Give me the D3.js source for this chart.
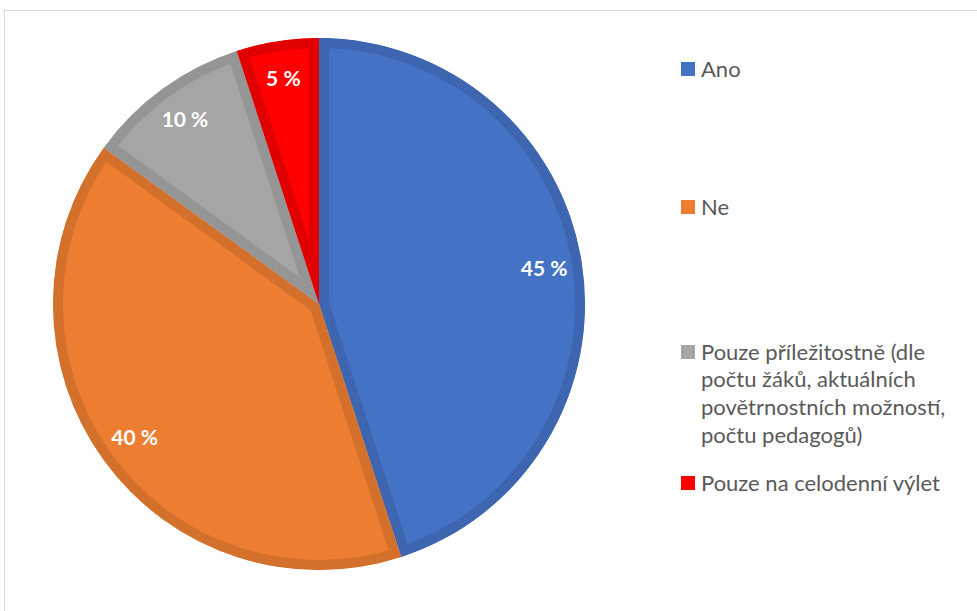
<!DOCTYPE html>
<html>
<head>
<meta charset="utf-8">
<script src="https://cdn.jsdelivr.net/npm/d3@7"></script>
<style>
  body { margin: 0; background: #fff; }
  .pct { font-family: Lato, "Open Sans", sans-serif; font-size: 21px; font-weight: bold; fill: #fff; text-anchor: middle; }
  .legend { font-family: Lato, "Open Sans", sans-serif; font-size: 22px; fill: #595959; }
</style>
</head>
<body>
<svg id="chart" width="977" height="611"></svg>
<script>
const categories = [
  ["Ano"],
  ["Ne"],
  ["Pouze příležitostně (dle", "počtu žáků, aktuálních", "povětrnostních možností,", "počtu pedagogů)"],
  ["Pouze na celodenní výlet"]
];
const values = [45, 40, 10, 5];
const fills = ["#4472C4", "#ED7D31", "#A5A5A5", "#FF0000"];
const edges = ["#3E66B0", "#D3702C", "#959595", "#E00000"];
const legendY = [69, 207, 352, 483];

const width = 977, height = 611;
const cx = 319, cy = 304, r = 266, band = 10;

const svg = d3.select("#chart");

// chart area frame
svg.append("rect")
  .attr("x", 4.5).attr("y", 10.5)
  .attr("width", 1000).attr("height", 700)
  .attr("fill", "none").attr("stroke", "#D9D9D9").attr("stroke-width", 1);

const data = values.map((v, i) => ({ v, i }));
const pie = d3.pie().value(d => d.v).sort(null);
const arc = d3.arc().innerRadius(0).outerRadius(r);
const arcs = pie(data);

const g = svg.append("g").attr("transform", "translate(" + cx + "," + cy + ")");

const defs = svg.append("defs");
arcs.forEach((d, i) => {
  defs.append("clipPath").attr("id", "clip" + i)
    .append("path").attr("d", arc(d));
});

// slices, border drawn inside each slice
g.selectAll("path.slice")
  .data(arcs)
  .enter()
  .append("path")
  .attr("class", "slice")
  .attr("d", arc)
  .attr("clip-path", (d, i) => "url(#clip" + i + ")")
  .attr("fill", (d, i) => fills[i])
  .attr("stroke", (d, i) => edges[i])
  .attr("stroke-width", band * 2)
  .attr("stroke-linejoin", "miter");

// percentage labels
const labelArc = d3.arc().innerRadius(228).outerRadius(228);
g.selectAll("text.pct")
  .data(arcs)
  .enter()
  .append("text")
  .attr("class", "pct")
  .attr("x", d => labelArc.centroid(d)[0])
  .attr("y", d => labelArc.centroid(d)[1])
  .attr("dy", "0.35em")
  .text(d => d.data.v + " %");

// legend
const legend = svg.append("g");
categories.forEach((lines, i) => {
  legend.append("rect")
    .attr("x", 681).attr("y", legendY[i] - 7)
    .attr("width", 14).attr("height", 14)
    .attr("fill", fills[i]);
  const t = legend.append("text")
    .attr("class", "legend")
    .attr("x", 701).attr("y", legendY[i]);
  lines.forEach((line, j) => {
    t.append("tspan").attr("x", 701).attr("dy", j === 0 ? "0.35em" : "27.7px").text(line);
  });
});
</script>
</body>
</html>
